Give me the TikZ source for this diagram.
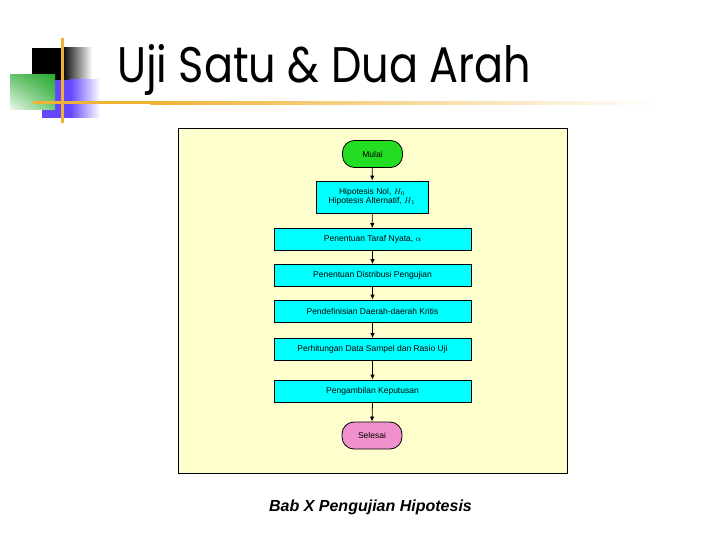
\documentclass[tikz,border=0pt]{standalone}
\usepackage{fontspec}
\setmainfont{Liberation Sans}
\newfontfamily\titlefont{Poppins}
\usepackage{amsmath}
\usetikzlibrary{arrows.meta,positioning,shadings}

\definecolor{panelyellow}{RGB}{255,255,206}
\definecolor{stepcyan}{RGB}{0,255,255}
\definecolor{startgreen}{RGB}{34,221,34}
\definecolor{endpink}{RGB}{240,144,204}
\definecolor{barorange}{RGB}{240,178,52}
\definecolor{blockpurple}{RGB}{100,70,255}
\definecolor{blockgreen}{RGB}{40,170,50}

\tikzset{
  >={Latex[length=5pt,width=4.5pt]},
  flowbox/.style={draw=black, line width=0.8pt, fill=stepcyan, minimum width=197pt,
    minimum height=22pt, inner sep=0pt, font=\fontsize{8.5}{10.5}\selectfont},
  terminal/.style={draw=black, line width=0.8pt, rounded corners=12pt, minimum width=60pt,
    minimum height=27pt, inner sep=0pt, font=\fontsize{8.5}{10.5}\selectfont},
}

\begin{document}
\begin{tikzpicture}[x=1pt,y=-1pt]
    \useasboundingbox (0,0) rectangle (720,540);
    \fill[white] (0,0) rectangle (720,540);
    % corner blocks
    \fill[black] (32,48) rectangle (62,80);
    \shade[left color=black,right color=white] (62,48) rectangle (92,80);
    \fill[blockpurple] (42,80) rectangle (70,118);
    \shade[left color=blockpurple,right color=white] (70,80) rectangle (100,118);
    \shade[upper right=blockgreen, upper left=blockgreen!70!white,
           lower right=blockgreen!65!white, lower left=blockgreen!8!white] (10,75) rectangle (55,110);
    \draw[barorange, line width=3pt] (62,38) -- (62,123);
    \fill[barorange] (33,101.5) rectangle (150,104.5);
    \shade[left color=barorange,right color=white] (150,101.5) rectangle (660,104.5);
    \node[anchor=base west, inner sep=0pt, font=\titlefont\fontsize{50}{56}\selectfont] (title) at (117,83) {\scalebox{0.86}[1]{Uji Satu \& Dua Arah}};
    % flowchart
    \filldraw[fill=panelyellow, draw=black, line width=0.8pt] (178,128) rectangle (567,473);
    \fill[stepcyan] (316,181) rectangle (428,213);
    \node[terminal, fill=startgreen] (mulai) at (372.5,154) {Mulai};
    \node[flowbox, minimum width=112pt, minimum height=32pt, align=center] (hipotesis) at (372,197)
        {Hipotesis Nol, $H_0$\\[-1.5pt]Hipotesis Alternatif, $H_1$};
    \node[flowbox] (taraf) at (372.5,239.5) {Penentuan Taraf Nyata, $\alpha$};
    \node[flowbox] (distribusi) at (372.5,275.5) {Penentuan Distribusi Pengujian};
    \node[flowbox] (kritis) at (372.5,311) {Pendefinisian Daerah-daerah Kritis};
    \node[flowbox] (hitung) at (372.5,349.5) {Perhitungan Data Sampel dan Rasio Uji};
    \node[flowbox] (keputusan) at (372.5,391) {Pengambilan Keputusan};
    \node[terminal, fill=endpink] (selesai) at (372,435.5) {Selesai};
    \draw[->, line width=0.8pt] (mulai)--(hipotesis);
    \draw[->, line width=0.8pt] (hipotesis)--(taraf);
    \draw[->, line width=0.8pt] (taraf)--(distribusi);
    \draw[->, line width=0.8pt] (distribusi)--(kritis);
    \draw[->, line width=0.8pt] (kritis)--(hitung);
    \draw[->, line width=0.8pt] (hitung)--(keputusan);
    \draw[->, line width=0.8pt] (keputusan.south)--(selesai.north);
    \node[anchor=base, inner sep=0pt, font=\fontsize{16}{18}\selectfont\bfseries\itshape] (caption) at (370.5,511) {Bab X Pengujian Hipotesis};
\end{tikzpicture}
\end{document}
